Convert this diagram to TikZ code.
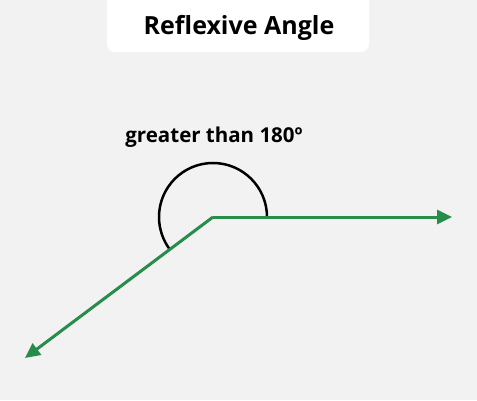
\documentclass[tikz,border=0pt]{standalone}
\usepackage{fontspec}
\setmainfont{Open Sans}
\usetikzlibrary{arrows.meta}

\definecolor{bggray}{RGB}{242,242,242}
\definecolor{raygreen}{RGB}{40,140,75}

\begin{document}
\begin{tikzpicture}[
    x=1pt, y=1pt,
    ray/.style={raygreen, line width=3pt, -{Triangle[length=15pt, width=14pt]}},
    anglearc/.style={black, line width=2.5pt},
    label/.style={font=\fontsize{20.5}{24}\selectfont\bfseries, anchor=base}
]
    \fill[bggray] (0,0) rectangle (477,400);
    \useasboundingbox (0,0) rectangle (477,400);
    \clip (0,0) rectangle (477,400);
    \fill[white, rounded corners=8pt] (107,348) rectangle (369,412);
    \node[label, font=\fontsize{25}{30}\selectfont\bfseries] (title) at (239,365) {Reflexive Angle};
    \node[label] (text) at (214,258) {greater than 180º};
    \coordinate (o) at (213,183);
    \coordinate (r) at (452,183);
    \coordinate (l) at (25,42);
    \draw[anglearc] ([shift={(0:54)}]o) arc[start angle=0, end angle=217, radius=54];
    \draw[ray] (o) -- (r);
    \draw[ray] (o) -- (l);
\end{tikzpicture}
\end{document}
